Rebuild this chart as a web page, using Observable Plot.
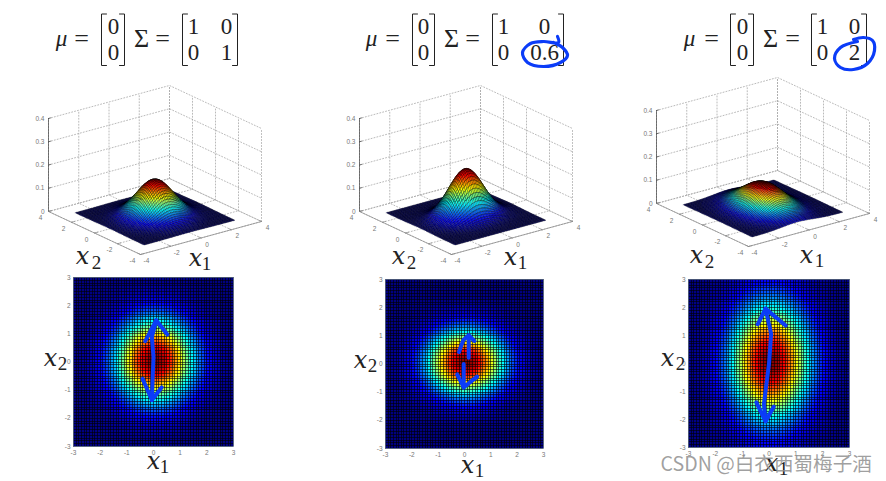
<!DOCTYPE html>
<html><head><meta charset="utf-8">
<script src="https://cdn.jsdelivr.net/npm/d3@7"></script>
<script src="https://cdn.jsdelivr.net/npm/@observablehq/plot@0.6"></script>
<style>html,body{margin:0;padding:0;background:#fff}#c{position:relative;width:886px;height:481px;overflow:hidden}#c svg{position:absolute;left:0;top:0;background:transparent}</style>
</head><body><div id="c"></div>
<script>
// Height of the surface along an axis, at distances 0, 0.1 ... 3.0 from the centre
const profileVar1 = [.3989,.3970,.3910,.3814,.3683,.3521,.3332,.3123,.2897,.2661,.2420,.2179,.1942,.1714,.1497,.1295,.1109,.0940,.0790,.0656,.0540,.0440,.0355,.0283,.0224,.0175,.0136,.0104,.0079,.0060,.0044];
const profileVar06 = [.5150,.5107,.4981,.4778,.4507,.4181,.3815,.3423,.3021,.2622,.2238,.1879,.1551,.1259,.1006,.0790,.0610,.0463,.0346,.0254,.0184,.0130,.0091,.0063,.0042,.0028,.0018,.0012,.0007,.0005,.0003];
const profileVar2 = [.2821,.2814,.2793,.2758,.2710,.2650,.2578,.2496,.2404,.2304,.2197,.2085,.1968,.1849,.1728,.1607,.1488,.1370,.1255,.1144,.1038,.0937,.0841,.0752,.0668,.0591,.0520,.0456,.0397,.0345,.0297];
const x1Profiles = [profileVar1, profileVar1, profileVar1];
const x2Profiles = [profileVar1, profileVar06, profileVar2];
const jetStops = [0,.125,.375,.625,.875,1];
const jetColors = ["#00007f","#0000ff","#00ffff","#ffff00","#ff0000","#7f0000"];
const heatTicks = [-3,-2,-1,0,1,2,3];
const floorTicks = [-4,-2,0,2,4];
const zTicks = [0,.1,.2,.3,.4];
const sigmaEntries = [["1","0","0","1"],["1","0","0","0.6"],["1","0","0","2"]];
const watermark = "CSDN @白衣西蜀梅子酒";

// Hand-drawn arrows, in x1,x2 data units of each heatmap
const arrows = [
 [[[.1,1.48],[-.06,.89],[0,.17],[-.03,-.54],[-.06,-1.35]],[[-.31,.74],[.1,1.48],[.52,.98]],[[-.41,-.6],[-.06,-1.35],[.31,-.9]]],
 [[[-.21,.42],[-.05,.84],[.16,1.02],[.38,.81]],[[.16,1.02],[.16,.22]],[[-.03,0],[-.03,-.83]],[[-.28,-.37],[-.03,-.83],[.48,-.45]]],
 [[[-.13,1.96],[.08,1.06],[0,-.01],[-.19,-1.45],[-.13,-2.04]],[[-.42,1.4],[-.13,1.96],[.62,1.36]],[[-.47,-1.39],[-.13,-2.07],[.18,-1.54]]]
];
// Hand-drawn loops round the marked entries
const loops = [
 [[557,36],[558,42],[543,41],[530,43],[522,52],[527,62],[543,66],[560,62],[567,55],[562,47],[553,42]],
 [[857,41],[840,47],[834,58],[840,67],[853,69],[867,63],[874,50],[872,40],[863,37],[853,39]]
];

// Layout
const heatFrames = [{l:73,r:233,t:277,b:446},{l:385,r:543,t:279,b:448},{l:688,r:849,t:279,b:447}];
const boxOffsets = [{dx:0,dy:0},{dx:311,dy:0},{dx:608,dy:-8}];
const matrixLayout = [
 {mu:61,eq1:81,b1:[101,124],m:113,sig:141,eq2:162,b2:[182,237],c1:193,c2:226},
 {mu:371,eq1:392,b1:[412,434],m:423,sig:451,eq2:472,b2:[492,563],c1:503,c2:544},
 {mu:689,eq1:711,b1:[730,753],m:742,sig:770,eq2:792,b2:[811,866],c1:822,c2:854}
];
const varLabels = [
 [82,263,2,96,268],[195,265,1,206,269],[50,365,2,62,369],[153,468,1,164,472],
 [398,263,2,411,268],[510,264,1,522,268],[360,367,2,372,371],[467,472,1,479,476],
 [696,262,2,709,267],[806,262,1,819,266],[667,365,2,680,369],[771,470,1,783,474]
];

const W = 886, H = 481, root = document.getElementById("c");
const mount = el => root.appendChild(el);
const labelFont = "Liberation Sans";
const grid = d3.range(61).map(i => (i - 30) / 10);
const full = {width:W,height:H,margin:0,x:{domain:[0,W],range:[0,W],axis:null},y:{domain:[0,H],range:[0,H],axis:null}};

function jet(peak){return {type:"linear",domain:jetStops.map(s=>s*peak),range:jetColors,legend:false};}

function cells(p){
  const a=x1Profiles[p],b=x2Profiles[p],out=[];
  for(let i=0;i<60;i++)for(let j=0;j<60;j++)out.push({i,j,v:a[Math.abs(i-30)]*b[Math.abs(j-30)]});
  return out;
}

// Heatmaps
heatFrames.forEach((f,p)=>{
  const data=cells(p),peak=x1Profiles[p][0]*x2Profiles[p][0];
  const strokes=arrows[p].flatMap((s,k)=>s.map(([a,b])=>({a,b,k})));
  mount(Plot.plot({
    width:W,height:H,marginLeft:f.l,marginRight:W-f.r,marginTop:f.t,marginBottom:H-f.b,
    x:{domain:[-3,3],axis:null},y:{domain:[-3,3],axis:null},color:jet(peak),
    marks:[
      Plot.rect(data,{x1:d=>grid[d.i],x2:d=>grid[d.i+1],y1:d=>grid[d.j],y2:d=>grid[d.j+1],fill:"v",shapeRendering:"crispEdges"}),
      Plot.ruleX(grid,{stroke:"#000",strokeWidth:1,strokeOpacity:.6,shapeRendering:"crispEdges"}),
      Plot.ruleY(grid,{stroke:"#000",strokeWidth:1,strokeOpacity:.6,shapeRendering:"crispEdges"}),
      Plot.frame({stroke:"#5a6a8a",strokeWidth:.8}),
      Plot.text(heatTicks,{x:d=>d,frameAnchor:"bottom",dy:8,text:d=>String(d),fontSize:6.5,fontFamily:labelFont,fill:"#777"}),
      Plot.text(heatTicks,{y:d=>d,frameAnchor:"left",dx:-3,textAnchor:"end",text:d=>String(d),fontSize:6.5,fontFamily:labelFont,fill:"#777"}),
      Plot.line(strokes,{x:"a",y:"b",z:"k",stroke:"#0b3cf8",strokeWidth:4,strokeLinecap:"round",strokeLinejoin:"round"})
    ]}));
});

// 3-D surfaces
boxOffsets.forEach(({dx,dy},p)=>{
  const proj=(a,b,z)=>[dx+140+(a+4)/8*121-(b+4)/8*92, dy+254-(a+4)/8*33-(b+4)/8*43-z/.4*93];
  const pt=(a,b,z,k)=>{const [sx,sy]=proj(a,b,z);return {sx,sy,k};};
  const gridLines=[];
  let k=0;
  floorTicks.forEach(t=>{
    gridLines.push(pt(t,4,0,k),pt(t,4,.4,k));k++;
    gridLines.push(pt(4,t,0,k),pt(4,t,.4,k));k++;
    gridLines.push(pt(t,-4,0,k),pt(t,4,0,k));k++;
    gridLines.push(pt(-4,t,0,k),pt(4,t,0,k));k++;
  });
  zTicks.forEach(z=>{gridLines.push(pt(-4,4,z,k),pt(4,4,z,k),pt(4,-4,z,k));k++;});
  const axisLines=[pt(-4,4,.4,0),pt(-4,4,0,0)];
  const floorAxis=[pt(-4,4,0,0),pt(-4,-4,0,0),pt(4,-4,0,0)];
  let t=1;
  zTicks.forEach(z=>{axisLines.push(pt(-4,4,z,t),pt(-3.85,4,z,t));t++;});
  floorTicks.forEach(v=>{floorAxis.push(pt(v,-4,0,t),pt(v,-3.8,0,t));t++;floorAxis.push(pt(-4,v,0,t),pt(-3.8,v,0,t));t++;});
  const a=x1Profiles[p],b=x2Profiles[p],peak=a[0]*b[0];
  const h=(i,j)=>a[Math.abs(i-30)]*b[Math.abs(j-30)];
  const order=[];
  for(let i=0;i<60;i++)for(let j=0;j<60;j++)order.push([i,j]);
  order.sort((u,v)=>(v[0]*33+v[1]*43)<(u[0]*33+u[1]*43)?-1:1);
  const quads=[];
  order.forEach(([i,j],q)=>{
    const v=h(i,j);
    [[i,j],[i+1,j],[i+1,j+1],[i,j+1]].forEach(([m,n])=>{
      const [sx,sy]=proj(grid[m],grid[n],h(m,n));
      quads.push({sx,sy,q,v});
    });
  });
  mount(Plot.plot({...full,color:jet(peak),marks:[
    Plot.line(gridLines,{x:"sx",y:"sy",z:"k",stroke:"#a8a8a8",strokeWidth:.8,strokeDasharray:"1,2"}),
    Plot.line(axisLines,{x:"sx",y:"sy",z:"k",stroke:"#444",strokeWidth:.7}),
    Plot.line(floorAxis,{x:"sx",y:"sy",z:"k",stroke:"#888",strokeWidth:.7}),
    Plot.line(quads,{x:"sx",y:"sy",z:"q",fill:"v",stroke:"#000",strokeWidth:.45,strokeOpacity:.72}),
    Plot.text(zTicks,{x:d=>proj(-4,4,d)[0],y:d=>proj(-4,4,d)[1],dx:-4,textAnchor:"end",text:d=>String(d),fontSize:6.5,fontFamily:labelFont,fill:"#777"}),
    Plot.text(floorTicks,{x:d=>proj(-4,d,0)[0],y:d=>proj(-4,d,0)[1],dx:-8,dy:6.5,text:d=>String(d),fontSize:6.5,fontFamily:labelFont,fill:"#777"}),
    Plot.text(floorTicks,{x:d=>proj(d,-4,0)[0],y:d=>proj(d,-4,0)[1],dx:6,dy:6.5,text:d=>String(d),fontSize:6.5,fontFamily:labelFont,fill:"#777"})
  ]}));
});

// Formulas, variable names, ink loops, watermark
const serif="'Liberation Serif','Times New Roman',serif", digitSize=23, opSize=26;
const digits=[],ops=[],ital=[],bracketPts=[];
let bk=0;
const bracket=(x0,x1,dir)=>{
  const outer=dir<0?x0:x1,inner=dir<0?x0+5:x1-5;
  bracketPts.push({x:inner,y:13.5,k:bk},{x:outer,y:13.5,k:bk},{x:outer,y:65,k:bk},{x:inner,y:65,k:bk});bk++;
};
matrixLayout.forEach((m,p)=>{
  ital.push({x:m.mu,y:45,t:"μ"});
  ops.push({x:m.eq1,y:46,t:"="},{x:m.sig,y:46,t:"Σ"},{x:m.eq2,y:46,t:"="});
  digits.push({x:m.m,y:33.5,t:"0"},{x:m.m,y:59.5,t:"0"});
  const s=sigmaEntries[p];
  digits.push({x:m.c1,y:33.5,t:s[0]},{x:m.c2,y:33.5,t:s[1]},{x:m.c1,y:59.5,t:s[2]},{x:m.c2,y:59.5,t:s[3]});
  bracket(m.b1[0],m.b1[0]+5,-1);bracket(m.b1[1]-5,m.b1[1],1);
  bracket(m.b2[0],m.b2[0]+5,-1);bracket(m.b2[1]-5,m.b2[1],1);
});
const loopPts=loops.flatMap((l,k)=>l.map(([x,y])=>({x,y,k})));
mount(Plot.plot({...full,marks:[
  Plot.text(digits,{x:"x",y:"y",text:"t",lineAnchor:"bottom",fontFamily:serif,fontSize:digitSize,fill:"#222"}),
  Plot.text(ops,{x:"x",y:"y",text:"t",lineAnchor:"bottom",fontFamily:serif,fontSize:opSize,fill:"#222"}),
  Plot.text(ital,{x:"x",y:"y",text:"t",lineAnchor:"bottom",fontFamily:serif,fontStyle:"italic",fontSize:digitSize,fill:"#222"}),
  Plot.line(bracketPts,{x:"x",y:"y",z:"k",stroke:"#222",strokeWidth:1}),
  Plot.line(loopPts,{x:"x",y:"y",z:"k",stroke:"#0b3cf8",strokeWidth:3.2,curve:"catmull-rom",strokeLinecap:"round"}),
  Plot.text(varLabels,{x:d=>d[0],y:d=>d[1],text:()=>"x",lineAnchor:"bottom",fontFamily:"DejaVu Serif",fontStyle:"italic",fontSize:24,fill:"#222"}),
  Plot.text(varLabels,{x:d=>d[3],y:d=>d[4],text:d=>String(d[2]),lineAnchor:"bottom",fontFamily:serif,fontSize:19,fill:"#222"}),
  Plot.text([watermark],{x:()=>660,y:()=>470,text:d=>d,textAnchor:"start",lineAnchor:"bottom",fontFamily:"Noto Sans CJK SC",fontSize:19.6,fill:"#8f8f8f",fillOpacity:.85})
]}));
</script></body></html>
